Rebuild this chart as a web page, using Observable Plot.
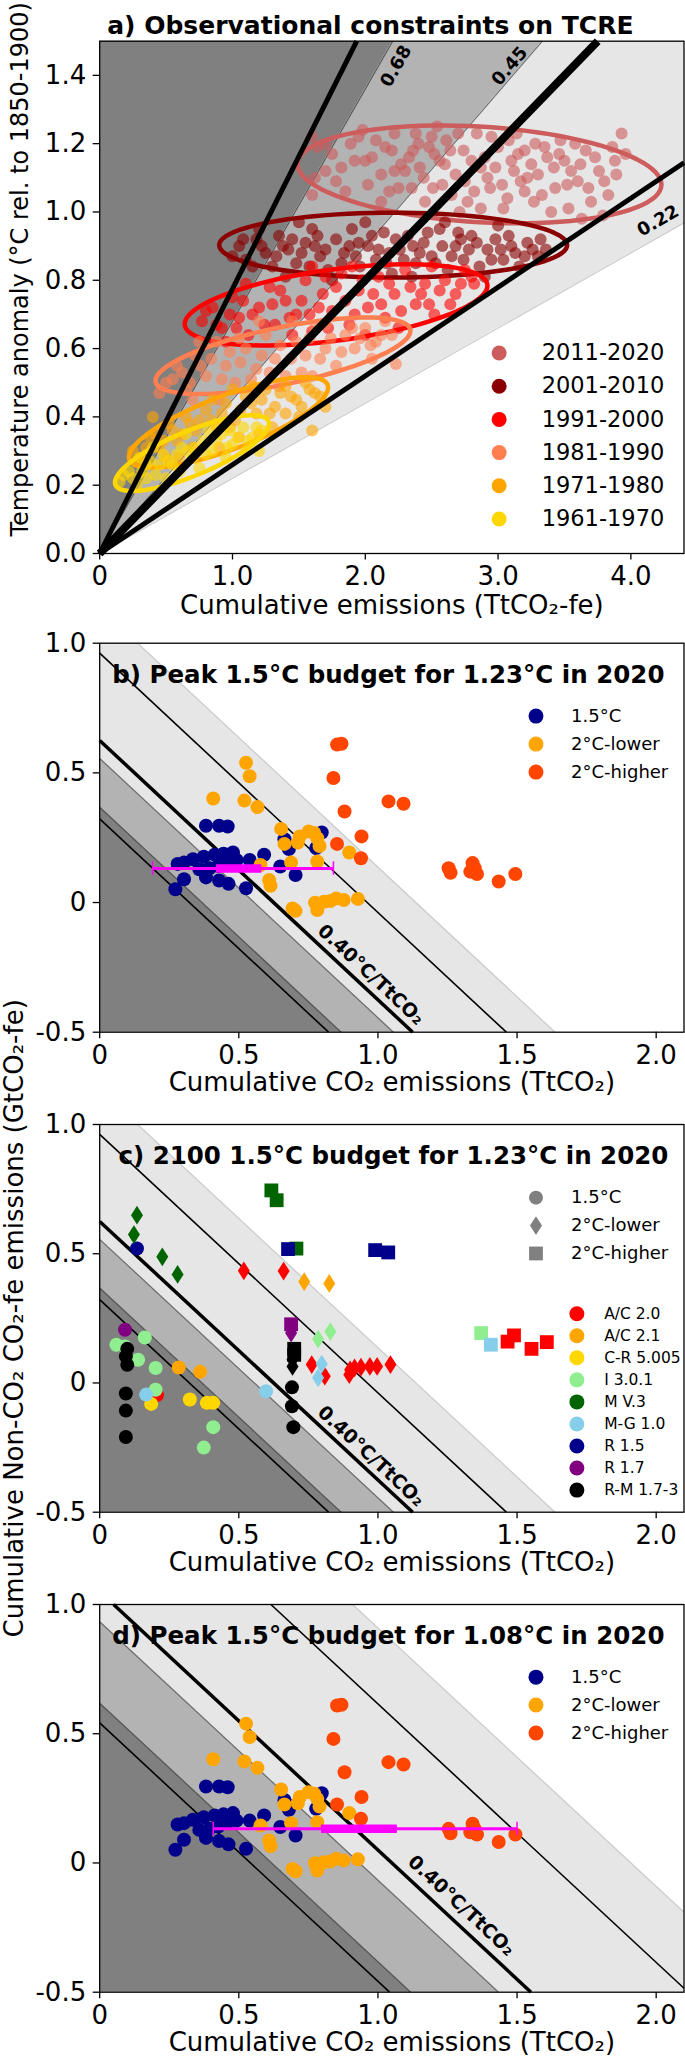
<!DOCTYPE html>
<html><head><meta charset="utf-8">
<script src="https://cdn.jsdelivr.net/npm/d3@7"></script>
<script src="https://cdn.jsdelivr.net/npm/@observablehq/plot@0.6"></script>
<style>
body{margin:0;background:#fff;}
#wrap{position:relative;width:685px;height:2064px;overflow:hidden;background:#fff;}
#wrap svg{position:absolute;left:0;overflow:visible;}
#wrap svg [aria-label$="tick"] path, #wrap svg [aria-label$="axis"] line{stroke-width:1.3px;}
</style></head><body><div id="wrap"></div>
<script>
// ================= DATA =================
// Panel a
const decades = ["2011-2020","2001-2010","1991-2000","1981-1990","1971-1980","1961-1970"];
const decadeColors = ["#cd5c5c","#8b0000","#ff0000","#ff7f50","#ffa500","#ffd700"];
const cloud2011 = [[1.60,1.22],[1.64,1.19],[1.60,1.05],[1.62,1.10],[1.75,1.17],[1.82,1.13],[1.89,1.20],[1.98,1.24],[2.05,1.16],[2.12,1.11],[2.15,1.19],[2.22,1.23],[2.25,1.07],[2.33,1.16],[2.38,1.23],[2.41,1.13],[2.48,1.19],[2.51,1.07],[2.56,1.15],[2.61,1.21],[2.68,1.11],[2.74,1.18],[2.77,1.03],[2.84,1.23],[2.87,1.13],[2.94,1.07],[3.00,1.19],[3.04,1.01],[3.10,1.15],[3.17,1.09],[3.20,1.18],[3.27,1.03],[3.30,1.11],[3.37,1.16],[3.43,1.07],[3.50,1.15],[3.53,1.01],[3.60,1.09],[3.66,1.18],[3.70,1.03],[3.76,1.12],[3.83,1.05],[3.86,1.19],[3.93,1.23],[3.89,1.11],[3.79,0.99],[3.40,1.00],[3.07,1.04],[2.45,1.03],[2.54,1.25],[3.47,1.21],[2.02,1.08],[2.12,1.03],[2.35,1.07],[2.87,1.01],[3.14,1.23],[3.63,0.98],[1.85,1.06],[2.71,1.00],[2.30,1.12],[2.60,1.14],[2.90,1.16],[3.25,1.14],[3.55,1.12],[2.00,1.15],[2.75,1.09],[3.35,1.19],[2.20,1.18],[1.70,1.12],[2.40,1.20],[2.95,1.22],[3.58,1.20],[2.65,1.05],[3.20,1.06],
 [1.70,1.20],[1.78,1.09],[1.92,1.15],[1.95,1.22],[2.08,1.21],[2.18,1.06],[2.27,1.14],[2.36,1.18],[2.44,1.10],[2.50,1.22],[2.58,1.08],[2.64,1.18],[2.70,1.23],[2.80,1.15],[2.82,1.06],[2.92,1.10],[2.98,1.13],[3.03,1.08],[3.08,1.21],[3.12,1.12],[3.22,1.10],[3.28,1.20],[3.33,1.05],[3.42,1.13],[3.46,1.17],[3.52,1.08],[3.62,1.14],[3.68,1.07],[3.73,1.16],[3.80,1.09],[3.88,1.15],[3.96,1.17],[2.22,1.12],[2.52,1.17],[3.15,1.17]];
const cloud2001 = [[1.05,0.90],[1.10,0.86],[1.18,0.92],[1.25,0.88],[1.30,0.84],[1.35,0.93],[1.42,0.89],[1.48,0.85],[1.55,0.91],[1.60,0.95],[1.66,0.87],[1.72,0.83],[1.78,0.92],[1.84,0.88],[1.90,0.95],[1.96,0.84],[2.02,0.90],[2.08,0.86],[2.14,0.94],[2.20,0.82],[2.26,0.89],[2.32,0.93],[2.38,0.85],[2.44,0.91],[2.50,0.87],[2.56,0.95],[2.62,0.83],[2.68,0.90],[2.74,0.86],[2.80,0.93],[2.86,0.84],[2.92,0.89],[2.98,0.92],[3.04,0.86],[3.10,0.90],[3.16,0.84],[3.22,0.91],[3.30,0.87],[3.36,0.89],[1.40,0.81],[1.75,0.80],[2.35,0.81],[2.90,0.81],[1.20,0.95],[2.00,0.97],[2.60,0.97],[1.50,0.97],[3.00,0.96],[1.62,0.90],[2.18,0.88],[2.70,0.94],[1.95,0.91],
 [1.00,0.87],[1.08,0.92],[1.15,0.84],[1.22,0.90],[1.33,0.87],[1.38,0.90],[1.45,0.92],[1.52,0.88],[1.58,0.84],[1.64,0.93],[1.70,0.89],[1.82,0.85],[1.88,0.90],[1.93,0.87],[2.05,0.93],[2.10,0.89],[2.16,0.85],[2.23,0.92],[2.29,0.86],[2.36,0.90],[2.41,0.88],[2.47,0.94],[2.53,0.85],[2.58,0.90],[2.65,0.87],[2.72,0.92],[2.78,0.89],[2.84,0.91],[2.95,0.86],[3.02,0.89],[3.08,0.93],[3.13,0.88],[3.20,0.87],[3.26,0.89],[3.32,0.92]];
const cloud1991 = [[0.77,0.68],[0.85,0.72],[0.92,0.66],[1.00,0.75],[1.05,0.69],[1.12,0.64],[1.20,0.72],[1.28,0.78],[1.32,0.67],[1.40,0.74],[1.48,0.70],[1.55,0.80],[1.60,0.65],[1.68,0.76],[1.75,0.71],[1.82,0.82],[1.88,0.67],[1.95,0.77],[2.02,0.72],[2.10,0.81],[2.15,0.69],[2.22,0.76],[2.30,0.83],[2.38,0.73],[2.45,0.79],[2.52,0.70],[2.60,0.80],[2.68,0.76],[2.75,0.83],[2.82,0.79],[1.10,0.79],[1.45,0.64],[2.00,0.64],[2.50,0.84],[1.60,0.84],[0.95,0.62],[1.90,0.84],[2.25,0.66],
 [0.80,0.71],[0.88,0.67],[0.98,0.70],[1.03,0.66],[1.08,0.74],[1.15,0.70],[1.24,0.67],[1.30,0.73],[1.36,0.77],[1.43,0.69],[1.52,0.74],[1.58,0.70],[1.65,0.72],[1.72,0.66],[1.78,0.78],[1.85,0.74],[1.92,0.70],[1.98,0.80],[2.06,0.76],[2.12,0.73],[2.18,0.79],[2.27,0.71],[2.34,0.78],[2.42,0.76],[2.48,0.73],[2.56,0.77],[2.64,0.73],[2.72,0.79],[2.80,0.81],[1.70,0.81]];
const cloud1981 = [[0.50,0.50],[0.58,0.55],[0.65,0.48],[0.72,0.58],[0.80,0.52],[0.88,0.62],[0.95,0.55],[1.02,0.50],[1.10,0.60],[1.18,0.54],[1.25,0.64],[1.32,0.57],[1.40,0.52],[1.48,0.62],[1.55,0.58],[1.62,0.66],[1.70,0.60],[1.78,0.55],[1.85,0.64],[1.92,0.60],[2.00,0.66],[2.08,0.62],[2.15,0.68],[2.23,0.555],[0.70,0.45],[1.20,0.68],[1.60,0.52],[2.05,0.57],[0.90,0.45],[1.45,0.68],
 [0.45,0.47],[0.55,0.51],[0.62,0.53],[0.68,0.50],[0.76,0.55],[0.84,0.57],[0.92,0.51],[0.98,0.59],[1.06,0.56],[1.14,0.51],[1.22,0.58],[1.28,0.53],[1.36,0.61],[1.44,0.57],[1.52,0.53],[1.58,0.63],[1.66,0.57],[1.74,0.63],[1.82,0.59],[1.90,0.66],[1.96,0.63],[2.04,0.61],[2.12,0.64],[2.20,0.64],[1.05,0.63],[0.75,0.62],[1.35,0.49],[1.70,0.67]];
const cloud1971 = [[0.25,0.30],[0.32,0.28],[0.38,0.34],[0.45,0.31],[0.52,0.38],[0.58,0.33],[0.65,0.40],[0.72,0.36],[0.80,0.42],[0.88,0.37],[0.95,0.44],[1.02,0.39],[1.10,0.46],[1.18,0.41],[1.25,0.48],[1.32,0.43],[1.40,0.49],[1.48,0.45],[1.55,0.50],[1.62,0.47],[1.70,0.43],[0.60,0.28],[0.90,0.31],[1.20,0.35],[1.50,0.40],[0.40,0.40],[1.00,0.48],[1.30,0.37],[1.60,0.36],
 [0.28,0.27],[0.35,0.31],[0.42,0.35],[0.48,0.33],[0.55,0.36],[0.62,0.35],[0.68,0.38],[0.75,0.39],[0.84,0.39],[0.92,0.41],[0.98,0.37],[1.06,0.42],[1.14,0.44],[1.22,0.45],[1.28,0.41],[1.36,0.47],[1.44,0.46],[1.52,0.43],[1.58,0.48],[1.66,0.46],[0.70,0.31],[1.05,0.34],[1.40,0.41],[0.50,0.28],[0.85,0.45],[1.15,0.49]];
const cloud1961 = [[0.15,0.21],[0.22,0.24],[0.28,0.20],[0.35,0.26],[0.42,0.23],[0.48,0.29],[0.55,0.26],[0.62,0.31],[0.70,0.28],[0.78,0.33],[0.85,0.30],[0.92,0.35],[1.00,0.32],[1.08,0.37],[1.15,0.34],[1.22,0.36],[0.30,0.28],[0.50,0.22],[0.75,0.25],[0.95,0.28],[1.20,0.30],[0.65,0.35],[0.40,0.31],[0.88,0.38],
 [0.18,0.23],[0.25,0.22],[0.32,0.24],[0.38,0.27],[0.45,0.26],[0.52,0.27],[0.58,0.29],[0.66,0.30],[0.72,0.31],[0.80,0.29],[0.88,0.33],[0.96,0.31],[1.04,0.34],[1.12,0.33],[1.18,0.37],[0.60,0.24],[0.82,0.36],[1.10,0.30],[0.35,0.22],[0.98,0.36]];
const clouds = [cloud2011, cloud2001, cloud1991, cloud1981, cloud1971, cloud1961];
// ellipse: centre, half-axis vector U, vertical half-height
const ellCx = [2.86, 2.21, 1.78, 1.38, 0.97, 0.695];
const ellCy = [1.11, 0.903, 0.728, 0.579, 0.384, 0.294];
const ellUx = [1.37, 1.31, 1.14, 0.96, 0.75, 0.58];
const ellUy = [-0.03, 0.0, 0.056, 0.073, 0.102, 0.086];
const ellB  = [0.14, 0.095, 0.105, 0.085, 0.084, 0.07];

// TCRE values (°C/TtCO2)
const tcreBand = [0.68, 0.45, 0.22];      // shading edges
const tcreBandLabels = ["0.68","0.45","0.22"];
const tcreLine = [0.775, 0.40, 0.26];     // black lines
const bandFill = ["#808080","#b3b3b3","#e6e6e6"];
const bandEdge = ["#555555","#6e6e6e","#cccccc"];
const lineWidthA = [5, 8, 5];
const lineWidthB = [1.6, 3.5, 1.6];
// remaining warming to 1.5°C used for budget panels
const warmB = 0.25;   // panels b, c (1.23°C in 2020)
const warmD = 0.42;   // panel d (1.08°C in 2020)

// Panel b / d scenarios
const catNames = ["1.5°C","2°C-lower","2°C-higher"];
const catColors = ["#00008b","#ffa500","#ff4500"];
const pts15 = [[0.382,0.296],[0.429,0.296],[0.460,0.293],[0.664,0.244],[0.680,0.206],[0.798,0.270],[0.778,0.210],[0.280,0.149],[0.303,0.154],[0.335,0.167],[0.374,0.177],[0.413,0.184],[0.445,0.188],[0.479,0.193],[0.492,0.164],[0.457,0.154],[0.426,0.141],[0.394,0.132],[0.358,0.128],[0.382,0.097],[0.429,0.085],[0.463,0.072],[0.303,0.090],[0.272,0.051],[0.526,0.055],[0.539,0.164],[0.591,0.184],[0.649,0.139],[0.704,0.106]];
const ptsLower = [[0.526,0.539],[0.539,0.487],[0.408,0.401],[0.520,0.393],[0.567,0.368],[0.652,0.284],[0.664,0.226],[0.712,0.231],[0.719,0.255],[0.751,0.274],[0.771,0.268],[0.782,0.248],[0.790,0.218],[0.782,0.158],[0.897,0.193],[0.578,0.145],[0.688,0.154],[0.609,0.087],[0.614,0.065],[0.693,-0.023],[0.704,-0.032],[0.774,-0.001],[0.782,-0.029],[0.806,0.003],[0.829,0.006],[0.850,0.016],[0.877,0.010],[0.928,0.014]];
const ptsHigher = [[0.853,0.609],[0.869,0.612],[0.840,0.480],[1.038,0.390],[1.092,0.381],[0.880,0.351],[0.941,0.255],[0.853,0.226],[0.939,0.171],[1.254,0.132],[1.261,0.115],[1.340,0.152],[1.332,0.119],[1.356,0.110],[1.348,0.132],[1.434,0.081],[1.494,0.110]];
// box-whisker summaries [y, min, q1, q3, max]
const boxB = [0.131, 0.19, 0.418, 0.581, 0.84];
const boxD = [0.132, 0.408, 0.795, 1.068, 1.50];

// Panel c models
const models = ["A/C 2.0","A/C 2.1","C-R 5.005","I 3.0.1","M V.3","M-G 1.0","R 1.5","R 1.7","R-M 1.7-3"];
const modelColors = ["#ff0000","#ffa500","#ffd700","#90ee90","#006400","#87ceeb","#00008b","#800080","#000000"];
// [model, category(0=1.5,1=lower,2=higher), x, y]
const cPts = [
 ["M V.3",2,0.617,0.745],["M V.3",2,0.636,0.707],["M V.3",2,0.707,0.520],
 ["M V.3",1,0.134,0.649],["M V.3",1,0.123,0.574],["M V.3",1,0.225,0.488],["M V.3",1,0.280,0.420],
 ["R 1.5",0,0.134,0.520],["R 1.5",2,0.677,0.518],["R 1.5",2,0.990,0.514],["R 1.5",2,1.037,0.505],
 ["A/C 2.0",1,0.518,0.434],["A/C 2.0",1,0.661,0.433],["A/C 2.0",1,0.762,0.071],["A/C 2.0",1,0.809,0.026],["A/C 2.0",1,0.897,0.032],["A/C 2.0",1,0.900,0.051],["A/C 2.0",1,0.916,0.058],["A/C 2.0",1,0.939,0.061],["A/C 2.0",1,0.971,0.064],["A/C 2.0",1,0.997,0.064],["A/C 2.0",1,1.045,0.071],
 ["A/C 2.0",2,1.466,0.160],["A/C 2.0",2,1.489,0.184],["A/C 2.0",2,1.552,0.132],["A/C 2.0",2,1.607,0.158],
 ["A/C 2.0",0,0.206,-0.047],
 ["A/C 2.1",1,0.735,0.392],["A/C 2.1",1,0.825,0.385],["A/C 2.1",0,0.284,0.060],["A/C 2.1",0,0.361,0.043],
 ["C-R 5.005",0,0.185,-0.081],["C-R 5.005",0,0.324,-0.064],["C-R 5.005",0,0.385,-0.077],["C-R 5.005",0,0.408,-0.077],
 ["I 3.0.1",1,0.785,0.170],["I 3.0.1",1,0.829,0.199],
 ["I 3.0.1",0,0.162,0.176],["I 3.0.1",0,0.060,0.148],["I 3.0.1",0,0.091,0.141],["I 3.0.1",0,0.138,0.090],["I 3.0.1",0,0.201,0.058],["I 3.0.1",0,0.201,-0.026],["I 3.0.1",0,0.408,-0.171],["I 3.0.1",0,0.374,-0.250],
 ["I 3.0.1",2,1.371,0.193],
 ["M-G 1.0",1,0.798,0.073],["M-G 1.0",1,0.785,0.020],["M-G 1.0",2,1.406,0.148],["M-G 1.0",0,0.167,-0.045],["M-G 1.0",0,0.598,-0.032],
 ["R 1.7",0,0.091,0.206],["R 1.7",1,0.688,0.193],["R 1.7",2,0.688,0.227],
 ["R-M 1.7-3",0,0.099,0.132],["R-M 1.7-3",0,0.094,0.103],["R-M 1.7-3",0,0.099,0.070],["R-M 1.7-3",0,0.094,-0.041],["R-M 1.7-3",0,0.094,-0.107],["R-M 1.7-3",0,0.094,-0.209],["R-M 1.7-3",0,0.691,-0.017],["R-M 1.7-3",0,0.691,-0.090],["R-M 1.7-3",0,0.696,-0.171],
 ["R-M 1.7-3",2,0.699,0.132],["R-M 1.7-3",2,0.699,0.109],["R-M 1.7-3",1,0.693,0.090],["R-M 1.7-3",1,0.693,0.064]
];

// axis ticks
const ticksAx = [0,1,2,3,4];
const ticksAy = [0,0.2,0.4,0.6,0.8,1.0,1.2,1.4];
const ticksBx = [0,0.5,1.0,1.5,2.0];
const ticksBy = [-0.5,0,0.5,1.0];

const titles = ["a) Observational constraints on TCRE","b) Peak 1.5°C budget for 1.23°C in 2020","c) 2100 1.5°C budget for 1.23°C in 2020","d) Peak 1.5°C budget for 1.08°C in 2020"];
const xLabelA = "Cumulative emissions (TtCO₂-fe)";
const yLabelA = "Temperature anomaly (°C rel. to 1850-1900)";
const xLabelB = "Cumulative CO₂ emissions (TtCO₂)";
const yLabelB = "Cumulative Non-CO₂ CO₂-fe emissions (GtCO₂-fe)";
const lineLabel = "0.40°C/TtCO₂";

// ================= HELPERS =================
const FONT = "DejaVu Sans";
const W = 685;
const wrap = document.getElementById("wrap");
const fmt1 = d => d === 0 ? "0" : d.toFixed(1);
const baseStyle = {fontFamily: FONT, fontSize: "26px", background: "transparent", overflow: "visible", color: "black"};
function place(svg, top) { svg.style.top = top + "px"; wrap.appendChild(svg); }
function ellipse(i) {
  return d3.range(0, 2*Math.PI + 0.001, Math.PI/48).map(t => [ellCx[i] + ellUx[i]*Math.cos(t), ellCy[i] + ellUy[i]*Math.cos(t) + ellB[i]*Math.sin(t)]);
}
const thinDiamond = {draw(ctx, size) { const r = Math.sqrt(size/Math.PI); const h = r*1.25, w = r*0.8; ctx.moveTo(0,-h); ctx.lineTo(w,0); ctx.lineTo(0,h); ctx.lineTo(-w,0); ctx.closePath(); }};

// ================= PANEL A =================
{
  const H = 630, mT = 40.7, mB = 77, mL = 99.2, mR = 1.5;
  const X1 = 4.4, Y1 = 1.5;
  const pxX = (W - mL - mR)/X1, pxY = (H - mT - mB)/Y1;
  const xa = d3.range(0, X1 + 1e-9, 0.005);
  const cap = v => Math.min(v, Y1);
  const ends = s => ({x2: Math.min(X1, Y1/s), y2: Math.min(Y1, X1*s)});
  const marks = [
    Plot.areaY(xa, {x: d => d, y1: d => cap(tcreBand[0]*d), y2: () => Y1, fill: bandFill[0]}),
    Plot.areaY(xa, {x: d => d, y1: d => cap(tcreBand[1]*d), y2: d => cap(tcreBand[0]*d), fill: bandFill[1]}),
    Plot.areaY(xa, {x: d => d, y1: d => cap(tcreBand[2]*d), y2: d => cap(tcreBand[1]*d), fill: bandFill[2]}),
    Plot.link(tcreBand, {x1: () => 0, y1: () => 0, x2: s => ends(s).x2, y2: s => ends(s).y2, stroke: (s,i) => bandEdge[i], strokeWidth: 1.2})
  ];
  clouds.forEach((c, i) => {
    marks.push(Plot.dot(c, {x: d => d[0], y: d => d[1], r: 6, fill: decadeColors[i], fillOpacity: 0.6}));
    marks.push(Plot.line(ellipse(i), {x: d => d[0], y: d => d[1], stroke: decadeColors[i], strokeWidth: 4.5}));
  });
  marks.push(Plot.link(tcreLine, {x1: () => 0, y1: () => 0, x2: s => ends(s).x2, y2: s => ends(s).y2, stroke: "black", strokeWidth: (s,i) => lineWidthA[i]}));
  // labels on shading edges
  const labPos = [[2.231,1.427],[3.087,1.427],[4.205,0.974]];
  marks.push(Plot.text(tcreBandLabels, {x: (d,i) => labPos[i][0], y: (d,i) => labPos[i][1], text: d => d,
    rotate: (d,i) => -Math.atan(tcreBand[i]*pxY/pxX)*180/Math.PI, fontSize: 18, fontWeight: "bold"}));
  // legend
  const legX = 3.008, legTX = 3.328, legY0 = 0.587, legDY = 0.0972;
  marks.push(Plot.dot(decades, {x: () => legX, y: (d,i) => legY0 - i*legDY, r: 7.5, fill: (d,i) => decadeColors[i]}));
  marks.push(Plot.text(decades, {x: () => legTX, y: (d,i) => legY0 - i*legDY, text: d => d, textAnchor: "start", fontSize: 22.5}));
  marks.push(Plot.frame({stroke: "black", strokeWidth: 1.3}));
  marks.push(Plot.text([titles[0]], {frameAnchor: "top", text: d => d, textAnchor: "middle", dx: -21.5, dy: -24.5, fontSize: 25, fontWeight: "bold"}));
  marks.push(Plot.text([xLabelA], {frameAnchor: "bottom", text: d => d, textAnchor: "middle", dy: 60, fontSize: 26}));
  marks.push(Plot.text([yLabelA], {frameAnchor: "left", text: d => d, textAnchor: "middle", dx: -79.5, dy: -28, rotate: -90, fontSize: 24}));
  const svg = Plot.plot({
    width: W, height: H, marginTop: mT, marginBottom: mB, marginLeft: mL, marginRight: mR,
    style: baseStyle,
    color: {type: "identity"},
    x: {domain: [0, X1], ticks: ticksAx, tickFormat: fmt1, tickSize: 6.5, tickPadding: 7, label: null},
    y: {domain: [0, Y1], ticks: ticksAy, tickFormat: d => d.toFixed(1), tickSize: 6.5, tickPadding: 7, label: null},
    marks
  });
  place(svg, 0);
}

// ================= PANELS B, C, D =================
function budgetPanel({top, H, mT, mB, warm, title, titleDx, labelPos, box, kind, yLabel}) {
  const mL = 99.2, mR = 1.5, X0 = 0, X1 = 2.1, Y0 = -0.5, Y1 = 1.0;
  const pxX = (W - mL - mR)/(X1 - X0), pxY = (H - mT - mB)/(Y1 - Y0);
  const xs = d3.range(X0, X1 + 1e-9, 0.0025);
  const cl = v => Math.max(Y0, Math.min(Y1, v));
  const cB = tcreBand.map(t => warm/t);
  const cL = tcreLine.map(t => warm/t);
  const seg = c => { const x1 = Math.max(X0, c - Y1), x2 = Math.min(X1, c - Y0); return {x1, y1: c - x1, x2, y2: c - x2}; };
  const marks = [
    Plot.areaY(xs, {x: d => d, y1: () => Y0, y2: d => cl(cB[0] - d), fill: bandFill[0]}),
    Plot.areaY(xs, {x: d => d, y1: d => cl(cB[0] - d), y2: d => cl(cB[1] - d), fill: bandFill[1]}),
    Plot.areaY(xs, {x: d => d, y1: d => cl(cB[1] - d), y2: d => cl(cB[2] - d), fill: bandFill[2]}),
    Plot.link(cB, {x1: c => seg(c).x1, y1: c => seg(c).y1, x2: c => seg(c).x2, y2: c => seg(c).y2, stroke: (c,i) => bandEdge[i], strokeWidth: 1.3}),
    Plot.link(cL, {x1: c => seg(c).x1, y1: c => seg(c).y1, x2: c => seg(c).x2, y2: c => seg(c).y2, stroke: "black", strokeWidth: (c,i) => lineWidthB[i]})
  ];
  const ang = Math.atan(pxY/pxX)*180/Math.PI;
  if (kind === "scen") {
    [pts15, ptsLower, ptsHigher].forEach((p, i) => marks.push(Plot.dot(p, {x: d => d[0], y: d => d[1], r: 7, fill: catColors[i]})));
    // box-whisker
    const [by, bmin, bq1, bq3, bmax] = box;
    marks.push(Plot.link([box], {x1: () => bmin, x2: () => bmax, y1: () => by, y2: () => by, stroke: "#ff00ff", strokeWidth: 3}));
    marks.push(Plot.link([box], {x1: () => bq1, x2: () => bq3, y1: () => by, y2: () => by, stroke: "#ff00ff", strokeWidth: 8.5}));
    marks.push(Plot.ruleX([bmin, bmax], {x: d => d, y1: () => by - 0.026, y2: () => by + 0.026, stroke: "#ff00ff", strokeWidth: 1.5}));
    marks.push(Plot.text([lineLabel], {x: () => labelPos[0], y: () => labelPos[1], text: d => d, textAnchor: "middle", rotate: ang, fontSize: 19, fontWeight: "bold"}));
    // legend
    const lx = 1.568, ltx = 1.694, ly0 = 0.719, ldy = 0.108;
    marks.push(Plot.dot(catNames, {x: () => lx, y: (d,i) => ly0 - i*ldy, r: 7.5, fill: (d,i) => catColors[i]}));
    marks.push(Plot.text(catNames, {x: () => ltx, y: (d,i) => ly0 - i*ldy, text: d => d, textAnchor: "start", fontSize: 18}));
  } else {
    const symFor = [{symbol: "circle", r: 7}, {symbol: thinDiamond, r: 7.5}, {symbol: "square", r: 7.8}];
    [0,1,2].forEach(k => {
      const sub = cPts.filter(d => d[1] === k);
      marks.push(Plot.dot(sub, {x: d => d[2], y: d => d[3], symbol: symFor[k].symbol, r: symFor[k].r, fill: d => modelColors[models.indexOf(d[0])]}));
    });
    marks.push(Plot.text([lineLabel], {x: () => labelPos[0], y: () => labelPos[1], text: d => d, textAnchor: "middle", rotate: ang, fontSize: 19, fontWeight: "bold"}));
    // shape legend
    const lx = 1.568, ltx = 1.694, ly0 = 0.717, ldy = 0.108;
    [0,1,2].forEach(k => {
      marks.push(Plot.dot([catNames[k]], {x: () => lx, y: () => ly0 - k*ldy, symbol: symFor[k].symbol, r: symFor[k].r, fill: "#808080"}));
    });
    marks.push(Plot.text(catNames, {x: () => ltx, y: (d,i) => ly0 - i*ldy, text: d => d, textAnchor: "start", fontSize: 18}));
    // model legend
    const mx = 1.715, mtx = 1.813, my0 = 0.268, mdy = 0.0853;
    marks.push(Plot.dot(models, {x: () => mx, y: (d,i) => my0 - i*mdy, r: 7.5, fill: (d,i) => modelColors[i]}));
    marks.push(Plot.text(models, {x: () => mtx, y: (d,i) => my0 - i*mdy, text: d => d, textAnchor: "start", fontSize: 15.5}));
    marks.push(Plot.text([yLabel], {frameAnchor: "left", text: d => d, textAnchor: "middle", dx: -85, rotate: -90, fontSize: 26}));
  }
  marks.push(Plot.frame({stroke: "black", strokeWidth: 1.3}));
  marks.push(Plot.text([title], {frameAnchor: "top", text: d => d, textAnchor: "middle", dx: titleDx, dy: 22.5, fontSize: 24.5, fontWeight: "bold"}));
  marks.push(Plot.text([xLabelB], {frameAnchor: "bottom", text: d => d, textAnchor: "middle", dy: 59, fontSize: 26}));
  const svg = Plot.plot({
    width: W, height: H, marginTop: mT, marginBottom: mB, marginLeft: mL, marginRight: mR,
    style: baseStyle,
    color: {type: "identity"},
    x: {domain: [X0, X1], ticks: ticksBx, tickFormat: fmt1, tickSize: 6.5, tickPadding: 7, label: null},
    y: {domain: [Y0, Y1], ticks: ticksBy, tickFormat: fmt1, tickSize: 6.5, tickPadding: 7, label: null},
    marks
  });
  place(svg, top);
}

budgetPanel({top: 630, H: 475, mT: 12.7, mB: 73.3, warm: warmB, title: titles[1], titleDx: -3.5, labelPos: [0.975, -0.278], box: boxB, kind: "scen"});
budgetPanel({top: 1105, H: 485, mT: 19, mB: 78.3, warm: warmB, title: titles[2], titleDx: 1.5, labelPos: [0.975, -0.283], kind: "model", yLabel: yLabelB});
budgetPanel({top: 1590, H: 474, mT: 14, mB: 72.3, warm: warmD, title: titles[3], titleDx: -3.5, labelPos: [1.30, -0.165], box: boxD, kind: "scen"});
</script>
</body></html>
